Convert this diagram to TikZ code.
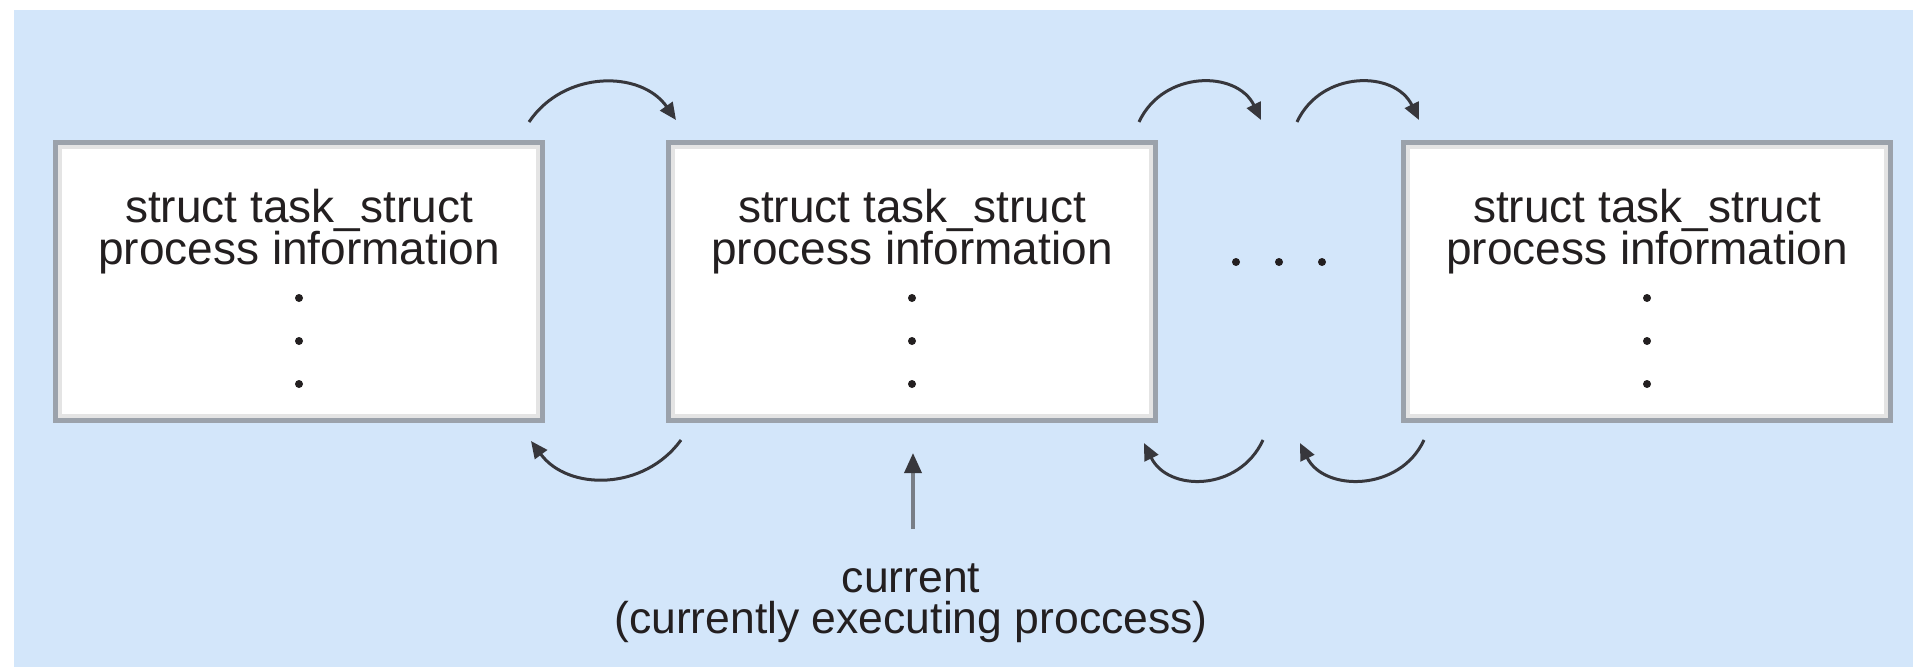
\documentclass[tikz,border=0pt]{standalone}
\usepackage{fontspec}
\setmainfont{Liberation Sans}
\usetikzlibrary{arrows.meta,calc}
\definecolor{bgblue}{RGB}{211,230,250}
\definecolor{boxgray}{RGB}{155,162,171}
\definecolor{bevelgray}{RGB}{228,228,228}
\definecolor{ink}{RGB}{35,31,32}
\definecolor{arcink}{RGB}{55,55,60}
\definecolor{shaftgray}{RGB}{120,126,134}
\begin{document}
\begin{tikzpicture}[x=1pt,y=-1pt,
  taskbox/.style={draw=boxgray, line width=5pt, fill=white, minimum width=487pt,
    minimum height=278pt, inner sep=0pt, outer sep=0pt},
  bevelline/.style={draw=bevelgray, line width=4pt},
  lbl/.style={font=\fontsize{46}{42}\selectfont, text=ink, inner sep=0pt, anchor=base},
  lbltwo/.style={font=\fontsize{44.5}{41}\selectfont, text=ink, inner sep=0pt, anchor=base},
  vdot/.style={circle, fill=ink, inner sep=0pt, minimum size=8pt},
  swaparrow/.style={draw=arcink, line width=3pt, -{Triangle[length=17pt,width=15pt]}},
  curarrow/.style={draw=shaftgray, line width=3.5pt, -{Triangle[length=20pt,width=17pt,color=arcink]}},
]
\useasboundingbox (0,0) rectangle (1913,667);
\fill[white] (0,0) rectangle (1913,667);
\fill[bgblue] (14,10) rectangle (1913,667);

% boxes
\foreach \n/\cx in {b1/299, b2/912, b3/1647}{
  \node[taskbox] (\n) at (\cx,281.5) {};
  \draw[bevelline] ([shift={(4.5,4.5)}]\n.north west) rectangle ([shift={(-4.5,-4.5)}]\n.south east);
  \node[lbl] (\n-l1) at (\cx,222) {struct task\_struct};
  \node[lbl] (\n-l2) at (\cx,264) {process information};
  \node[vdot] (\n-d1) at (\cx,298) {};
  \node[vdot] (\n-d2) at (\cx,341) {};
  \node[vdot] (\n-d3) at (\cx,384) {};
}

% horizontal dots
\node[vdot] (h1) at (1236,262) {};
\node[vdot] (h2) at (1279,262) {};
\node[vdot] (h3) at (1322,262) {};

% arc end points
\coordinate (tA1) at (529,122);  \coordinate (tA2) at (676,120);
\coordinate (tB1) at (1139,122); \coordinate (tB2) at (1261,120);
\coordinate (tC1) at (1297,122); \coordinate (tC2) at (1419,120);
\coordinate (bA1) at (681,440);  \coordinate (bA2) at (531,441);
\coordinate (bB1) at (1263,440); \coordinate (bB2) at (1144,443);
\coordinate (bC1) at (1424,440); \coordinate (bC2) at (1300,443);

\draw[swaparrow] (tA1) .. controls (564,70) and (641,70) .. (tA2);
\draw[swaparrow] (tB1) .. controls (1163,70) and (1237,70) .. (tB2);
\draw[swaparrow] (tC1) .. controls (1321,70) and (1395,70) .. (tC2);
\draw[swaparrow] (bA1) .. controls (644,491) and (568,491) .. (bA2);
\draw[swaparrow] (bB1) .. controls (1239,492) and (1168,492) .. (bB2);
\draw[swaparrow] (bC1) .. controls (1400,492) and (1324,492) .. (bC2);

% current pointer
\node[lbltwo] (cur) at (911,592) {current};
\node[lbltwo] (curdesc) at (911,633) {(currently executing proccess)};
\coordinate (curtail) at (913,529);
\coordinate (curtip) at (913,453);
\draw[curarrow] (curtail) -- (curtip);
\end{tikzpicture}
\end{document}
